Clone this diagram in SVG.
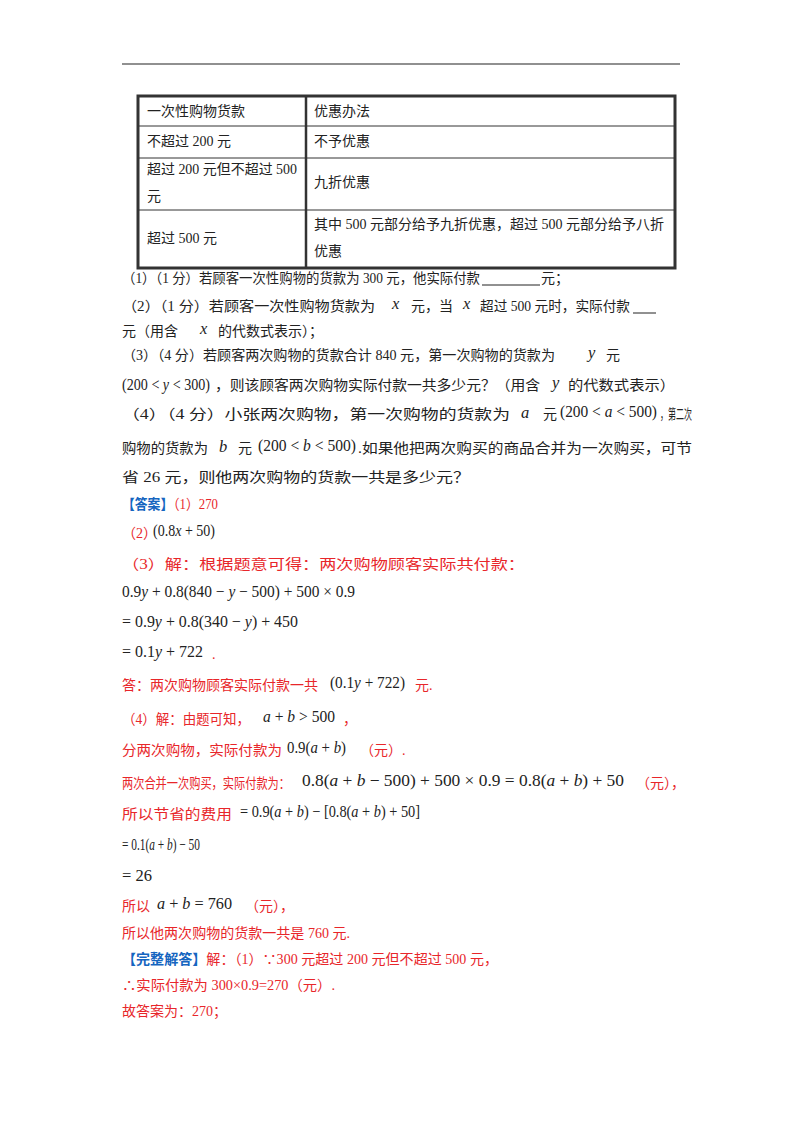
<svg xmlns="http://www.w3.org/2000/svg" width="800" height="1132" viewBox="0 0 800 1132">
<style>
text{font-family:"Liberation Serif","Noto Sans CJK SC",serif;font-size:14px;fill:#222}
.r{fill:#e8262a}
.b{fill:#1565c0;font-weight:bold}
.m{font-family:"Liberation Serif",serif;font-size:16.5px;fill:#222}
.i{font-style:italic}
.t{stroke:#333;fill:none}
</style>
<rect width="800" height="1132" fill="#fff"/>
<line x1="122" y1="64" x2="680" y2="64" stroke="#222" stroke-width="1.2"/>
<g id="table">
<rect x="138" y="96" width="537" height="172" class="t" stroke-width="3"/>
<line x1="306" y1="96" x2="306" y2="268" class="t" stroke-width="2.5"/>
<line x1="138" y1="126" x2="675" y2="126" class="t"/>
<line x1="138" y1="158" x2="675" y2="158" class="t"/>
<line x1="138" y1="210" x2="675" y2="210" class="t"/>
<text x="147" y="116">一次性购物货款</text><text x="314" y="116">优惠办法</text>
<text x="147" y="146">不超过 200 元</text><text x="314" y="146">不予优惠</text>
<text x="147" y="174" textLength="150" lengthAdjust="spacingAndGlyphs">超过 200 元但不超过 500</text><text x="147" y="201">元</text><text x="314" y="187">九折优惠</text>
<text x="147" y="243">超过 500 元</text><text x="314" y="229" textLength="350" lengthAdjust="spacingAndGlyphs">其中 500 元部分给予九折优惠，超过 500 元部分给予八折</text><text x="314" y="256">优惠</text>
</g>
<g id="questions">
<text x="122" y="283" textLength="358" lengthAdjust="spacingAndGlyphs">（1）（1 分）若顾客一次性购物的货款为 300 元，他实际付款</text>
<line x1="482" y1="285" x2="540" y2="285" stroke="#222"/><text x="541" y="283">元；</text>
<text x="122" y="311" textLength="253" lengthAdjust="spacingAndGlyphs">（2）（1 分）若顾客一次性购物货款为</text><text x="392" y="309" class="m i">x</text><text x="411" y="311">元，当</text><text x="463" y="309" class="m i">x</text>
<text x="480" y="311" textLength="150" lengthAdjust="spacingAndGlyphs">超过 500 元时，实际付款</text><line x1="633" y1="313" x2="656" y2="313" stroke="#222"/>
<text x="122" y="336">元（用含</text><text x="200" y="334" class="m i">x</text><text x="218" y="336">的代数式表示）；</text>
<text x="122" y="360" textLength="433" lengthAdjust="spacingAndGlyphs">（3）（4 分）若顾客两次购物的货款合计 840 元，第一次购物的货款为</text><text x="588" y="358" class="m i">y</text><text x="606" y="360">元</text>
<text x="122" y="390" class="m" textLength="88" lengthAdjust="spacingAndGlyphs">(200 &lt; <tspan class="i">y</tspan> &lt; 300)</text><text x="215" y="390" textLength="325" lengthAdjust="spacingAndGlyphs">，则该顾客两次购物实际付款一共多少元？（用含</text><text x="552" y="388" class="m i">y</text><text x="568" y="390" textLength="107" lengthAdjust="spacingAndGlyphs">的代数式表示）</text>
<text x="122" y="419" textLength="388" lengthAdjust="spacingAndGlyphs">（4）（4 分）小张两次购物，第一次购物的货款为</text><text x="521" y="418" class="m i">a</text><text x="543" y="419">元</text>
<text x="560" y="417" class="m" textLength="97" lengthAdjust="spacingAndGlyphs">(200 &lt; <tspan class="i">a</tspan> &lt; 500)</text><text x="660" y="419" textLength="32" lengthAdjust="spacingAndGlyphs">，第二次</text>
<text x="122" y="453" textLength="86" lengthAdjust="spacingAndGlyphs">购物的货款为</text><text x="219" y="452" class="m i">b</text><text x="238" y="453">元</text>
<text x="258" y="451" class="m" textLength="98" lengthAdjust="spacingAndGlyphs">(200 &lt; <tspan class="i">b</tspan> &lt; 500)</text><text x="358" y="453" textLength="334" lengthAdjust="spacingAndGlyphs">.如果他把两次购买的商品合并为一次购买，可节</text>
<text x="122" y="482" textLength="348" lengthAdjust="spacingAndGlyphs">省 26 元，则他两次购物的货款一共是多少元？</text>
</g>
<g id="answer">
<text x="122" y="509" textLength="96" lengthAdjust="spacingAndGlyphs"><tspan class="b">【答案】</tspan><tspan class="r">（1）270</tspan></text>
<text x="122" y="538" class="r">（2）</text><text x="153" y="536" class="m" textLength="62" lengthAdjust="spacingAndGlyphs">(0.8<tspan class="i">x</tspan> + 50)</text>
<text x="122" y="569" class="r" textLength="403" lengthAdjust="spacingAndGlyphs">（3）解：根据题意可得：两次购物顾客实际共付款：</text>
<text x="122" y="597" class="m" textLength="233" lengthAdjust="spacingAndGlyphs">0.9<tspan class="i">y</tspan> + 0.8(840 − <tspan class="i">y</tspan> − 500) + 500 × 0.9</text>
<text x="122" y="627" class="m" textLength="176" lengthAdjust="spacingAndGlyphs">= 0.9<tspan class="i">y</tspan> + 0.8(340 − <tspan class="i">y</tspan>) + 450</text>
<text x="122" y="657" class="m" textLength="81" lengthAdjust="spacingAndGlyphs">= 0.1<tspan class="i">y</tspan> + 722</text><text x="212" y="659" class="r">.</text>
<text x="122" y="690" class="r" textLength="196" lengthAdjust="spacingAndGlyphs">答：两次购物顾客实际付款一共</text><text x="330" y="688" class="m" textLength="75" lengthAdjust="spacingAndGlyphs">(0.1<tspan class="i">y</tspan> + 722)</text><text x="415" y="690" class="r">元.</text>
<text x="122" y="724" class="r" textLength="128" lengthAdjust="spacingAndGlyphs">（4）解：由题可知，</text><text x="263" y="722" class="m" textLength="72" lengthAdjust="spacingAndGlyphs"><tspan class="i">a</tspan> + <tspan class="i">b</tspan> &gt; 500</text><text x="343" y="724" class="r">，</text>
<text x="122" y="755" class="r" textLength="160" lengthAdjust="spacingAndGlyphs">分两次购物，实际付款为</text><text x="287" y="753" class="m" textLength="59" lengthAdjust="spacingAndGlyphs">0.9(<tspan class="i">a</tspan> + <tspan class="i">b</tspan>)</text><text x="360" y="755" class="r">（元）.</text>
<text x="122" y="788" class="r" textLength="168" lengthAdjust="spacingAndGlyphs">两次合并一次购买，实际付款为：</text><text x="302" y="786" class="m" textLength="322" lengthAdjust="spacingAndGlyphs">0.8(<tspan class="i">a</tspan> + <tspan class="i">b</tspan> − 500) + 500 × 0.9 = 0.8(<tspan class="i">a</tspan> + <tspan class="i">b</tspan>) + 50</text>
<text x="636" y="788" class="r">（元），</text>
<text x="122" y="819" class="r" textLength="110" lengthAdjust="spacingAndGlyphs">所以节省的费用</text><text x="240" y="817" class="m" textLength="180" lengthAdjust="spacingAndGlyphs">= 0.9(<tspan class="i">a</tspan> + <tspan class="i">b</tspan>) − [0.8(<tspan class="i">a</tspan> + <tspan class="i">b</tspan>) + 50]</text>
<text x="122" y="850" class="m" textLength="78" lengthAdjust="spacingAndGlyphs">= 0.1(<tspan class="i">a</tspan> + <tspan class="i">b</tspan>) − 50</text>
<text x="122" y="881" class="m">= 26</text>
<text x="122" y="911" class="r">所以</text><text x="157" y="909" class="m" textLength="75" lengthAdjust="spacingAndGlyphs"><tspan class="i">a</tspan> + <tspan class="i">b</tspan> = 760</text><text x="245" y="911" class="r">（元），</text>
<text x="122" y="938" class="r" textLength="228" lengthAdjust="spacingAndGlyphs">所以他两次购物的货款一共是 760 元.</text>
<text x="122" y="964" textLength="376" lengthAdjust="spacingAndGlyphs"><tspan class="b">【完整解答】</tspan><tspan class="r">解：（1）∵300 元超过 200 元但不超过 500 元，</tspan></text>
<text x="122" y="990" class="r" textLength="213" lengthAdjust="spacingAndGlyphs">∴实际付款为 300×0.9=270（元）.</text>
<text x="122" y="1016" class="r">故答案为：270；</text>
</g>
</svg>
